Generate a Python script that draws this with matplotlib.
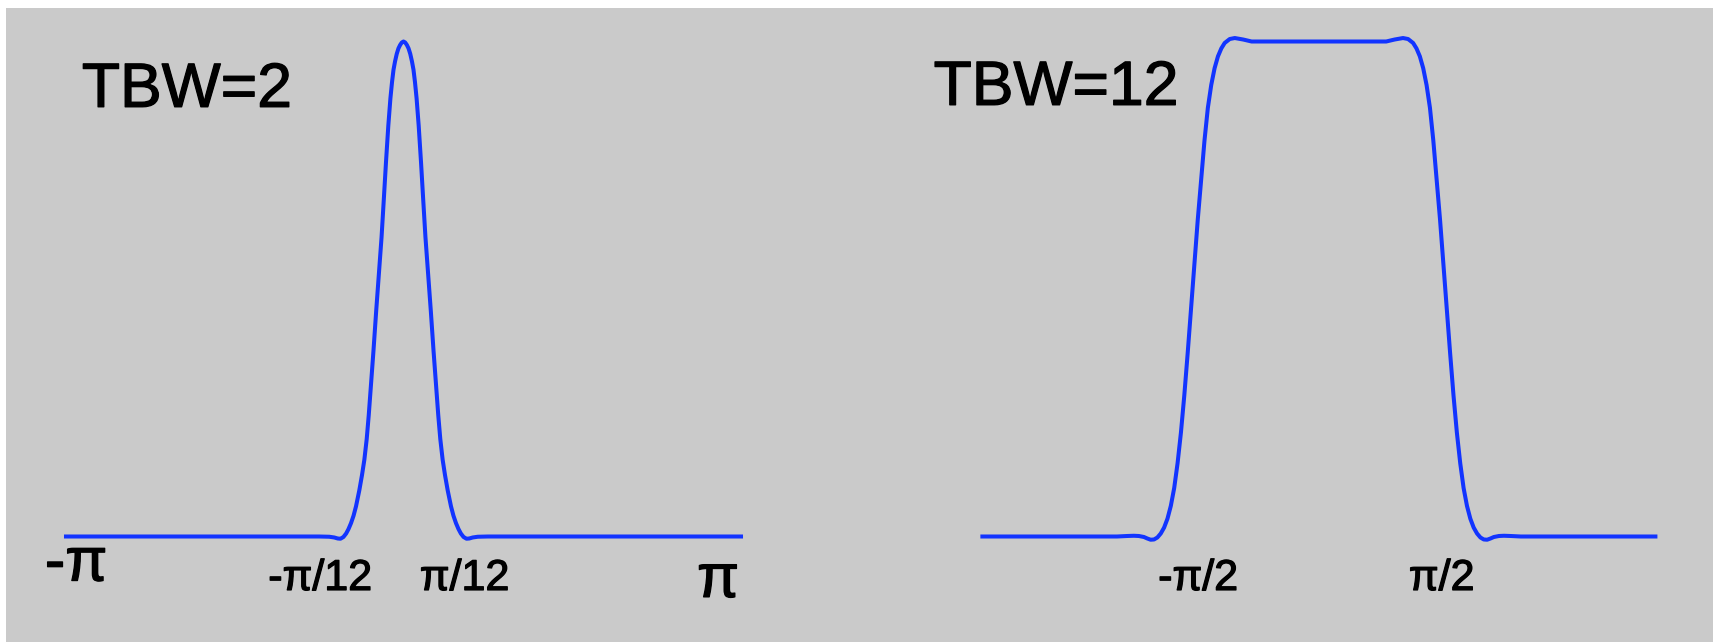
import matplotlib.pyplot as plt
import matplotlib.patheffects as pe
from matplotlib.patches import Rectangle

# frequency axis in units of pi, magnitude normalised to 1
#TBW=2 profile
x2 = [-1.0, -0.60, -0.25, -0.22, -0.205, -0.195, -0.1867, -0.178, -0.170, -0.163,
      -0.1555, -0.148, -0.1407, -0.131, -0.123, -0.116, -0.109, -0.103, -0.0975,
      -0.089, -0.081, -0.073, -0.065, -0.058, -0.052, -0.045, -0.0388, -0.034,
      -0.0296, -0.025, -0.020, -0.015, -0.010, -0.005, 0.0,
      0.005, 0.010, 0.015, 0.020, 0.025, 0.0296, 0.034, 0.0388, 0.045, 0.052,
      0.058, 0.065, 0.073, 0.081, 0.089, 0.0975, 0.103, 0.109, 0.116, 0.123,
      0.131, 0.1407, 0.148, 0.1555, 0.163, 0.170, 0.178, 0.1867, 0.195, 0.205,
      0.22, 0.25, 0.60, 1.0]
y2 = [0.0, 0.0, 0.0, -0.0005, -0.002, -0.004, -0.0045, -0.001, 0.006, 0.015,
      0.027, 0.042, 0.061, 0.093, 0.124, 0.155, 0.197, 0.245, 0.296,
      0.375, 0.455, 0.53, 0.605, 0.685, 0.755, 0.83, 0.885, 0.918,
      0.943, 0.96, 0.975, 0.986, 0.993, 0.998, 1.0,
      0.998, 0.993, 0.986, 0.975, 0.96, 0.943, 0.918, 0.885, 0.83, 0.755,
      0.685, 0.605, 0.53, 0.455, 0.375, 0.296, 0.245, 0.197, 0.155, 0.124,
      0.093, 0.061, 0.042, 0.027, 0.015, 0.006, -0.001, -0.0045, -0.004, -0.002,
      -0.0005, 0.0, 0.0, 0.0]

#TBW=12 profile
x12 = [-1.0, -0.60, -0.57, -0.55, -0.535, -0.52, -0.51, -0.50, -0.49, -0.48,
       -0.47, -0.46, -0.45, -0.44, -0.43, -0.42, -0.41, -0.40, -0.39, -0.38,
       -0.37, -0.36, -0.35, -0.34, -0.33, -0.32, -0.31, -0.30, -0.29, -0.28,
       -0.265, -0.25, -0.225, -0.20, 0.0,
       0.20, 0.225, 0.25, 0.265, 0.28, 0.29, 0.30, 0.31, 0.32, 0.33,
       0.34, 0.35, 0.36, 0.37, 0.38, 0.39, 0.40, 0.41, 0.42, 0.43,
       0.44, 0.45, 0.46, 0.47, 0.48, 0.49, 0.50, 0.51, 0.52, 0.535,
       0.55, 0.57, 0.60, 1.0]
y12 = [0.0, 0.0, 0.001, 0.0015, 0.001, -0.001, -0.004, -0.0065, -0.006, -0.002,
       0.006, 0.018, 0.036, 0.062, 0.098, 0.148, 0.21, 0.285, 0.37, 0.46,
       0.55, 0.64, 0.72, 0.80, 0.866, 0.912, 0.946, 0.970, 0.986, 0.997,
       1.005, 1.007, 1.004, 1.0, 1.0,
       1.0, 1.004, 1.007, 1.005, 0.997, 0.986, 0.970, 0.946, 0.912, 0.866,
       0.80, 0.72, 0.64, 0.55, 0.46, 0.37, 0.285, 0.21, 0.148, 0.098,
       0.062, 0.036, 0.018, 0.006, -0.002, -0.006, -0.0065, -0.004, -0.001, 0.001,
       0.0015, 0.001, 0.0, 0.0]

labels2 = ['-π', '-π/12', 'π/12', 'π']
labels2_x = [-0.970, -0.247, 0.181, 0.932]
labels12 = ['-π/2', 'π/2']
labels12_x = [-0.359, 0.365]

plt.rcParams['font.family'] = ['Liberation Sans', 'DejaVu Sans']

W, H = 1713, 642
fig = plt.figure(figsize=(W / 100, H / 100), dpi=100, facecolor='white')
fig.patches.append(Rectangle((6 / W, 0), 1, 1 - 8 / H, transform=fig.transFigure,
                             facecolor='#cacaca', edgecolor='none', lw=0, zorder=-10))

blue = '#1234ff'
bottom = (H - 536.5) / H
height = 495 / H
# slightly heavier glyphs, like the original rendering
bold = [pe.withStroke(linewidth=0.9, foreground='black')]

ax1 = fig.add_axes([66 / W, bottom, 675 / W, height])
ax1.plot(x2, y2, color=blue, lw=2.9, clip_on=False, solid_joinstyle='round')
ax1.set_xlim(-1, 1)
ax1.set_ylim(0, 1)
ax1.axis('off')
ax1.text(-0.953, 0.868, 'TBW=2', fontsize=45, ha='left', va='baseline', path_effects=bold)
ax1.text(labels2_x[0], -0.089, labels2[0], fontsize=44, ha='center', va='baseline', path_effects=bold)
ax1.text(labels2_x[1], -0.108, labels2[1], fontsize=31, ha='center', va='baseline', path_effects=bold)
ax1.text(labels2_x[2], -0.108, labels2[2], fontsize=31, ha='center', va='baseline', path_effects=bold)
ax1.text(labels2_x[3], -0.122, labels2[3], fontsize=44, ha='center', va='baseline', path_effects=bold)

ax2 = fig.add_axes([982.4 / W, bottom, 673 / W, height])
ax2.plot(x12, y12, color=blue, lw=2.9, clip_on=False, solid_joinstyle='round')
ax2.set_xlim(-1, 1)
ax2.set_ylim(0, 1)
ax2.axis('off')
ax2.text(-1.145, 0.872, 'TBW=12', fontsize=45, ha='left', va='baseline', path_effects=bold)
for lab, lx in zip(labels12, labels12_x):
    ax2.text(lx, -0.108, lab, fontsize=31, ha='center', va='baseline', path_effects=bold)

plt.savefig('out.png', dpi=100, facecolor=fig.get_facecolor())
